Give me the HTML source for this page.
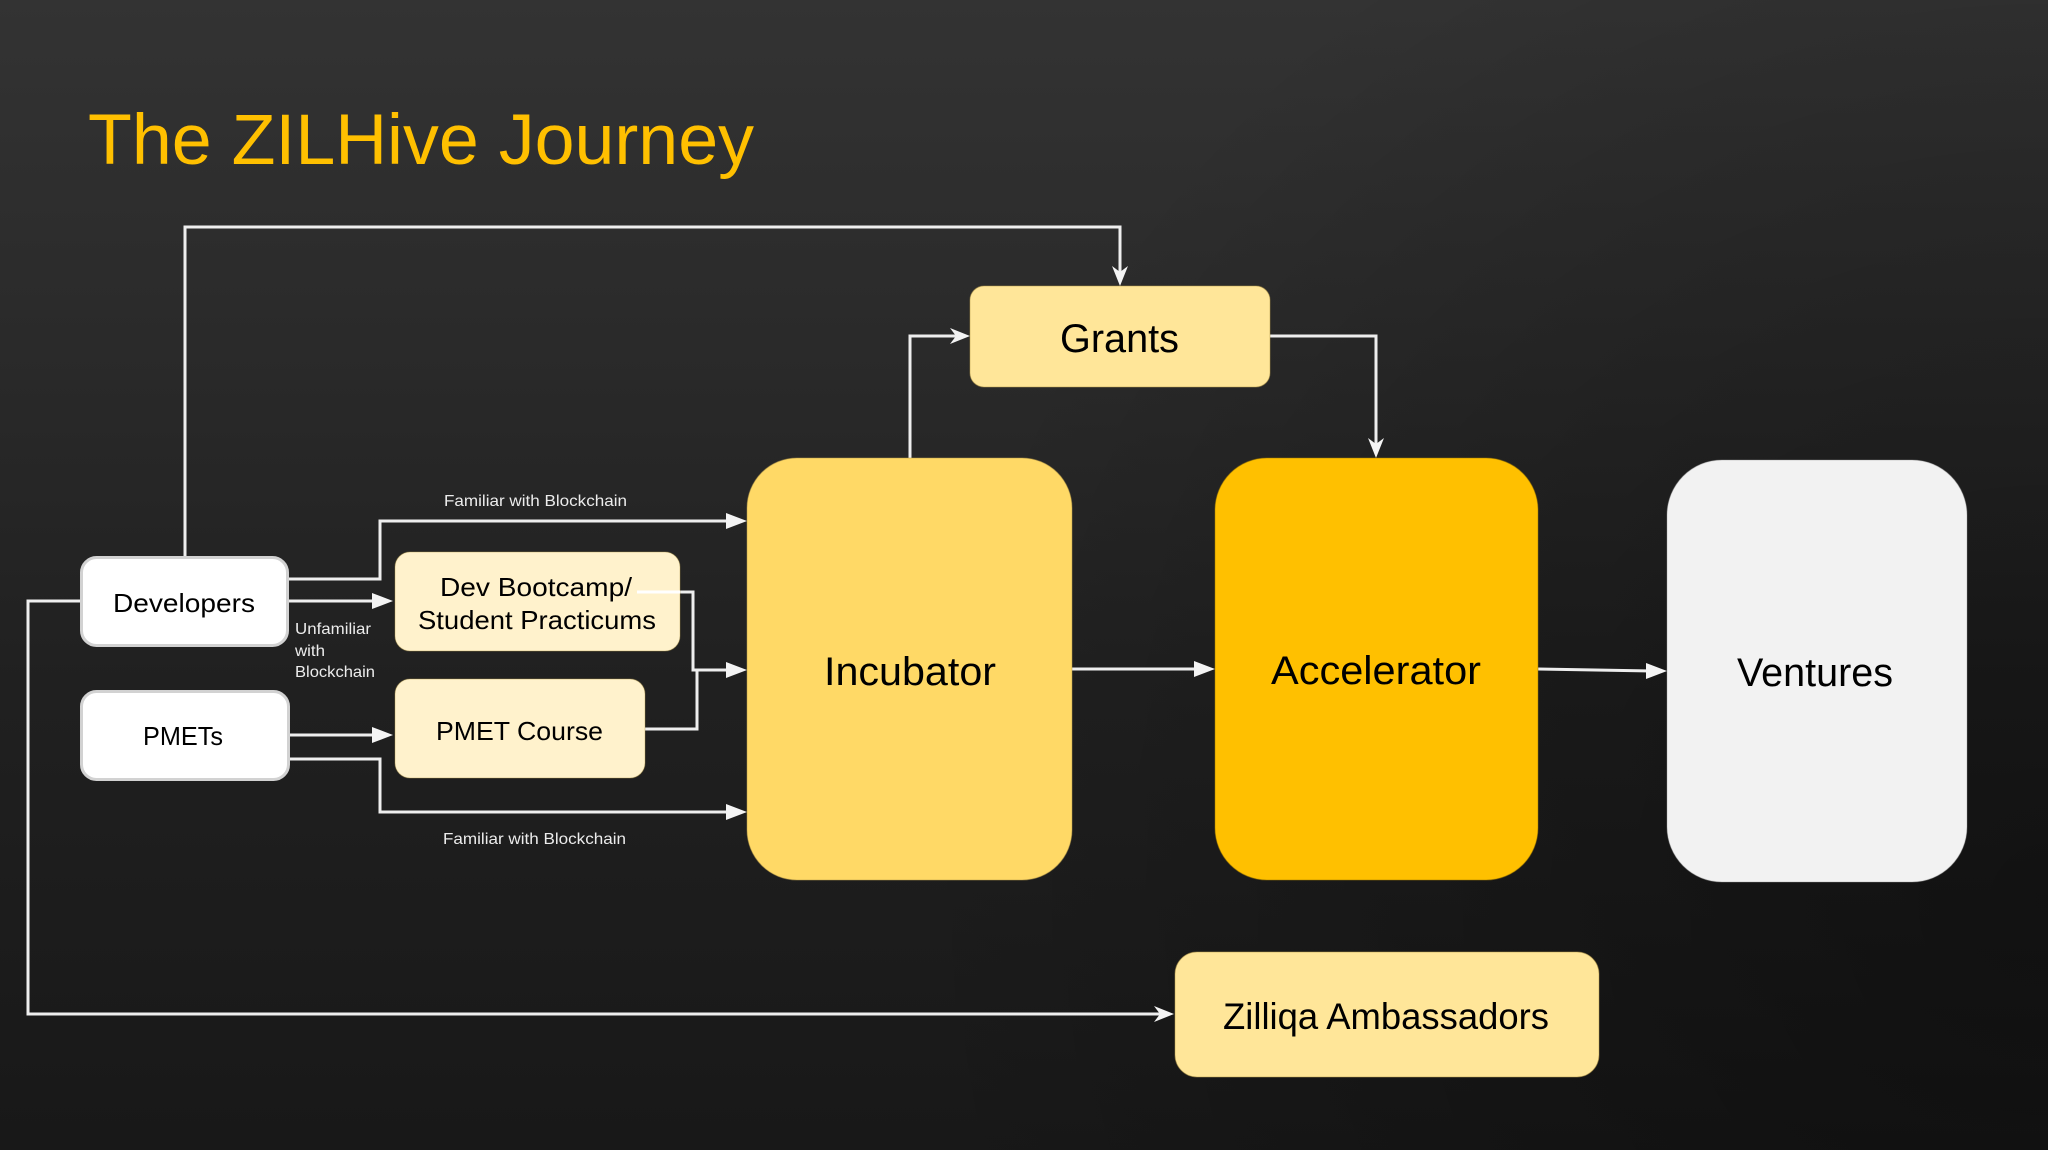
<!DOCTYPE html>
<html>
<head>
<meta charset="utf-8">
<style>
  html, body { margin:0; padding:0; background:#1f1f1f; }
  body { width:2048px; height:1150px; overflow:hidden; }
  svg { display:block; }
  text { font-family: "Liberation Sans", "DejaVu Sans", sans-serif; }
</style>
</head>
<body>
<svg width="2048" height="1150" viewBox="0 0 2048 1150" xmlns="http://www.w3.org/2000/svg">
  <defs>
    <linearGradient id="bgv" x1="0" y1="0" x2="0" y2="1">
      <stop offset="0" stop-color="#333333"/>
      <stop offset="0.3" stop-color="#2a2a2a"/>
      <stop offset="0.6" stop-color="#202020"/>
      <stop offset="1" stop-color="#181818"/>
    </linearGradient>
    <radialGradient id="bgr" gradientUnits="userSpaceOnUse" cx="2048" cy="900" r="1150">
      <stop offset="0" stop-color="#000" stop-opacity="0.38"/>
      <stop offset="0.5" stop-color="#000" stop-opacity="0.2"/>
      <stop offset="1" stop-color="#000" stop-opacity="0"/>
    </radialGradient>
  </defs>

  <!-- background -->
  <rect x="0" y="0" width="2048" height="1150" fill="url(#bgv)"/>
  <rect x="0" y="0" width="2048" height="1150" fill="url(#bgr)"/>

  <!-- title -->
  <text x="88" y="164" font-size="71" fill="#FFC000" textLength="666" lengthAdjust="spacingAndGlyphs">The ZILHive Journey</text>

  <!-- connectors -->
  <g fill="none" stroke="#eeeeee" stroke-width="3" stroke-linejoin="miter">
    <!-- Developers top -> Grants -->
    <path d="M185,556 V227 H1120 V272"/>
    <!-- Incubator -> Grants -->
    <path d="M910,458 V336 H956"/>
    <!-- Grants -> Accelerator -->
    <path d="M1270,336 H1376 V444"/>
    <!-- Developers -> Incubator top (familiar) -->
    <path d="M289,579 H380 V521 H733"/>
    <!-- Developers -> Bootcamp -->
    <path d="M289,601 H378"/>
    <!-- Bootcamp -> Incubator -->
    <path d="M637,592 H693 V670 H733"/>
    <!-- PMET Course -> join -->
    <path d="M645,729 H697 V670"/>
    <!-- PMETs -> PMET Course -->
    <path d="M290,735 H378"/>
    <!-- PMETs -> Incubator bottom -->
    <path d="M290,759 H380 V812 H733"/>
    <!-- Developers left -> Ambassadors -->
    <path d="M80,601 H28 V1014 H1160"/>
    <!-- Incubator -> Accelerator -->
    <path d="M1072,669 H1200"/>
    <!-- Accelerator -> Ventures -->
    <path d="M1538,669 L1652,671"/>
  </g>

  <!-- arrowheads -->
  <g fill="#f4f4f4">
    <!-- classic notched -->
    <polygon points="1120,286 1112,266 1120,272 1128,266"/>
    <polygon points="970,336 950,328 956,336 950,344"/>
    <polygon points="1376,458 1368,438 1376,444 1384,438"/>
    <polygon points="1174,1014 1154,1006 1160,1014 1154,1022"/>
    <!-- block -->
    <polygon points="747,521 726,513 726,529"/>
    <polygon points="393,601 372,593 372,609"/>
    <polygon points="747,670 726,662 726,678"/>
    <polygon points="393,735 372,727 372,743"/>
    <polygon points="747,812 726,804 726,820"/>
    <polygon points="1215,669 1194,661 1194,677"/>
    <polygon points="1667,671 1646,663 1646,679"/>
  </g>

  <!-- nodes -->
  <rect x="970" y="286" width="300" height="101" rx="14" fill="#FFE699" stroke="#b59a4a" stroke-opacity="0.5" stroke-width="1"/>
  <rect x="747" y="458" width="325" height="422" rx="50" fill="#FFD966" stroke="#b59a4a" stroke-opacity="0.5" stroke-width="1"/>
  <rect x="1215" y="458" width="323" height="422" rx="52" fill="#FFC000" stroke="#a07a00" stroke-opacity="0.5" stroke-width="1"/>
  <rect x="1667" y="460" width="300" height="422" rx="55" fill="#F2F2F2" stroke="#999" stroke-opacity="0.4" stroke-width="1"/>
  <rect x="1175" y="952" width="424" height="125" rx="22" fill="#FFE699" stroke="#b59a4a" stroke-opacity="0.5" stroke-width="1"/>

  <rect x="81.5" y="557.5" width="206" height="88" rx="15" fill="#ffffff" stroke="#d2d2d2" stroke-width="3"/>
  <rect x="81.5" y="691.5" width="207" height="88" rx="15" fill="#ffffff" stroke="#d2d2d2" stroke-width="3"/>

  <rect x="395" y="552" width="285" height="99" rx="15" fill="#FFF2CC" stroke="#b59a4a" stroke-opacity="0.4" stroke-width="1"/>
  <rect x="395" y="679" width="250" height="99" rx="15" fill="#FFF2CC" stroke="#b59a4a" stroke-opacity="0.4" stroke-width="1"/>

  <!-- Bootcamp outgoing line starts inside the box (drawn over it) -->
  <path d="M637,592 H680" fill="none" stroke="#ffffff" stroke-width="3"/>

  <!-- node labels -->
  <g fill="#000000">
    <text x="1060" y="352" font-size="40" textLength="119" lengthAdjust="spacingAndGlyphs">Grants</text>
    <text x="824" y="685" font-size="40" textLength="172" lengthAdjust="spacingAndGlyphs">Incubator</text>
    <text x="1271" y="684" font-size="40" textLength="210" lengthAdjust="spacingAndGlyphs">Accelerator</text>
    <text x="1737" y="686" font-size="40" textLength="156" lengthAdjust="spacingAndGlyphs">Ventures</text>
    <text x="1223" y="1029" font-size="37" textLength="326" lengthAdjust="spacingAndGlyphs">Zilliqa Ambassadors</text>
    <text x="113" y="612" font-size="26" textLength="142" lengthAdjust="spacingAndGlyphs">Developers</text>
    <text x="143" y="745" font-size="26" textLength="80" lengthAdjust="spacingAndGlyphs">PMETs</text>
    <text x="440" y="596" font-size="26" textLength="192" lengthAdjust="spacingAndGlyphs">Dev Bootcamp/</text>
    <text x="418" y="629" font-size="26" textLength="238" lengthAdjust="spacingAndGlyphs">Student Practicums</text>
    <text x="436" y="740" font-size="26" textLength="167" lengthAdjust="spacingAndGlyphs">PMET Course</text>
  </g>

  <!-- connector labels -->
  <g fill="#ececec">
    <text x="444" y="506" font-size="16" textLength="183" lengthAdjust="spacingAndGlyphs">Familiar with Blockchain</text>
    <text x="443" y="844" font-size="16" textLength="183" lengthAdjust="spacingAndGlyphs">Familiar with Blockchain</text>
    <text x="295" y="634" font-size="16" textLength="76" lengthAdjust="spacingAndGlyphs">Unfamiliar</text>
    <text x="295" y="656" font-size="16" textLength="30" lengthAdjust="spacingAndGlyphs">with</text>
    <text x="295" y="677" font-size="16" textLength="80" lengthAdjust="spacingAndGlyphs">Blockchain</text>
  </g>
</svg>
</body>
</html>
